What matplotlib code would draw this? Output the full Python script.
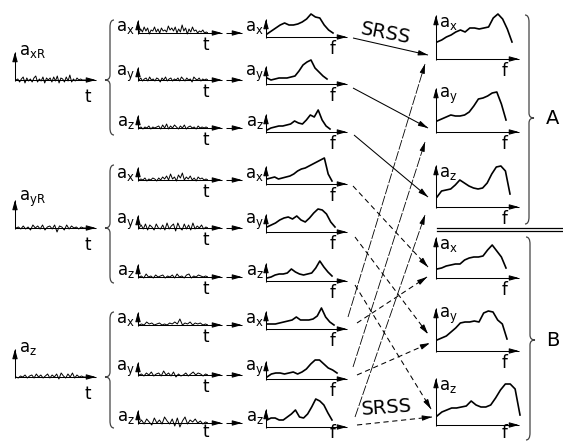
import numpy as np
import matplotlib.pyplot as plt
from matplotlib.path import Path
from matplotlib.patches import PathPatch

W, H = 563, 443

# ground motion records (px amplitude)
rec_xR = [0, 1, -2, 1, 3, -3, 2, -1, 1, -2, 2, 4, -2, 1, -1, 3, -3, 2, 0, 2, -2, 3, -1, 4,
          -3, 2, 1, -2, 3, -1, 5, -2, 1, -1, 2, 0, 1, 0, 0, 0]
rec_yR = [0, 1, -1, 2, -1, 1, -2, 3, 0, 2, -1, 3, -2, 1, 2, -1, 3, -4, 2, 1, -2, 3, -1, 2,
          0, 1, -1, 1, 0, 0]
rec_z = [0, -1, 1, 0, 2, -1, 1, 2, -1, 3, 0, 2, -1, 1, 3, -1, 2, 0, 3, -2, 4, 1, -1, 3,
         0, 4, -1, 2, 0, 1, 0, 0]

# floor response time histories
xR_ax = [0, 4, 1, 6, 2, 5, -1, 3, 2, 6, 1, 4, 0, 5, 2, 3, 1, 7, 3, 5, 2, 6, 0, 4, 1, 8,
         2, 5, -1, 4, 1, 6, 2, 3, 0, 2, 1, 3, 0, 1, 0]
xR_ay = [0, 2, -1, 1, 2, -1, 3, 0, 1, -1, 2, 1, -2, 2, 0, 3, -1, 1, 2, -1, 1, 0, 2, -1,
         3, 1, -1, 2, 0, 1, -2, 3, 1, 0, 2, -1, 1, 0, 1, 0]
xR_az = [0, 1, -1, 1, 0, 2, -1, 1, 0, 1, 2, -1, 3, 0, 4, -1, 2, 0, 3, 1, -1, 2, 0, 3,
         -1, 1, 2, 0, 1, -1, 2, 0, 1, 0, 1, 0]
yR_ax = [0, 1, 0, 2, -1, 1, 0, 2, 1, -1, 2, 0, 3, 1, 4, 0, 6, 1, 3, -1, 5, 2, 7, 0, 3,
         1, 4, 0, 2, -1, 3, 1, 2, 0, 1, 0]
yR_ay = [0, 3, -1, 4, -2, 3, 1, -2, 4, 0, -1, 3, -2, 5, -1, 2, 4, -3, 5, 0, -2, 4, -1,
         3, -2, 5, -1, 2, 0, 3, -1, 1, 0]
yR_az = [0, 1, -1, 3, 0, 1, -1, 2, 0, 1, 2, -1, 1, 0, 2, -1, 3, 0, 1, -1, 2, 3, -1, 1,
         0, 2, 1, 0, 1, 0]
z_ax = [0, 1, 0, 3, 1, 2, 0, 1, 2, 0, 1, 0, 2, 1, 3, 1, 6, 0, 2, 1, 3, 0, 2, 1, 2, 0, 1, 0]
z_ay = [0, 1, -1, 2, 0, 3, -1, 1, 2, -1, 4, 0, 2, -1, 3, -2, 1, -1, 0, 2, -1, 1, 3, 0,
        2, 1, -1, 1, 0]
z_az = [0, 3, -1, 4, 1, -2, 5, 0, 3, -1, 6, 2, -1, 4, -3, 5, -4, 2, 6, -1, 3, 1, 4, 0,
        2, -1, 1, 0]

# floor response spectra (px height)
sp_xR_ax = [3, 6, 9, 12, 14, 12, 12, 13, 15, 18, 23, 20, 19, 12, 7, 4]
sp_xR_ay = [6, 4, 5, 6, 6, 6, 7, 8, 13, 19, 22, 24, 16, 12, 8, 5]
sp_xR_az = [2, 4, 5, 6, 6, 7, 8, 11, 9, 8, 12, 17, 15, 22, 12, 6, 3]
sp_yR_ax = [5, 6, 7, 5, 6, 7, 8, 10, 13, 15, 16, 18, 20, 22, 24, 26, 10, 3]
sp_yR_ay = [5, 7, 9, 12, 14, 15, 13, 16, 12, 10, 14, 19, 23, 22, 18, 10, 5]
sp_yR_az = [3, 4, 6, 7, 7, 8, 12, 9, 7, 6, 7, 8, 13, 20, 14, 9, 5]
sp_z_ax = [5, 5, 5, 6, 7, 8, 9, 12, 9, 9, 9, 10, 13, 21, 12, 7, 4]
sp_z_ay = [2, 5, 6, 6, 5, 6, 7, 5, 7, 10, 15, 19, 19, 15, 11, 9, 6]
sp_z_az = [7, 9, 9, 7, 7, 10, 13, 17, 10, 9, 13, 20, 28, 26, 22, 14, 7]

# SRSS combined spectra
A_ax = [17, 19, 22, 24, 27, 29, 27, 31, 31, 30, 31, 32, 41, 45, 40, 30, 17]
A_ay = [11, 13, 15, 17, 16, 16, 17, 20, 26, 33, 34, 36, 39, 40, 28, 12]
A_az = [10, 16, 17, 18, 22, 27, 24, 21, 19, 18, 19, 24, 33, 40, 41, 36, 13]
B_ax = [9, 10, 12, 13, 14, 14, 18, 20, 21, 21, 22, 28, 33, 27, 21, 10]
B_ay = [11, 13, 15, 19, 23, 28, 29, 29, 30, 29, 38, 40, 39, 31, 27, 12]
B_az = [9, 13, 15, 17, 17, 18, 19, 24, 20, 18, 18, 20, 27, 35, 41, 41, 36, 10]

records = [rec_xR, rec_yR, rec_z]
rec_labels = ['a$_{\\rm xR}$', 'a$_{\\rm yR}$', 'a$_{\\rm z}$']
components = [xR_ax, xR_ay, xR_az, yR_ax, yR_ay, yR_az, z_ax, z_ay, z_az]
spectra = [sp_xR_ax, sp_xR_ay, sp_xR_az, sp_yR_ax, sp_yR_ay, sp_yR_az, sp_z_ax, sp_z_ay, sp_z_az]
results = [A_ax, A_ay, A_az, B_ax, B_ay, B_az]
comp_labels = ['a$_{\\rm x}$', 'a$_{\\rm y}$', 'a$_{\\rm z}$']

# layout (pixels, y down)
rec_base = [80, 228, 377]
row_y = [33, 80, 128, 180, 228, 277, 325, 375, 423]
sp_len = [67, 61, 64, 66, 69, 66, 68, 71, 66]
res_base = [59, 132, 207, 278, 351, 425]
res_top = [15, 88, 165, 237, 308, 378]
res_len = [76, 70, 74, 70, 71, 84]

fig = plt.figure(figsize=(W / 100, H / 100), dpi=100)
ov = fig.add_axes([0, 0, 1, 1])
ov.set_xlim(0, W)
ov.set_ylim(H, 0)
ov.axis('off')


def px_axes(x0, ybot, w, h):
    a = fig.add_axes([x0 / W, 1 - ybot / H, w / W, h / H])
    a.axis('off')
    a.patch.set_visible(False)
    return a


def arrow(x0, y0, x1, y1, dashes=None, lw=0.75):
    if dashes is None:
        ov.plot([x0, x1], [y0, y1], color='k', lw=lw, solid_capstyle='butt')
    else:
        ov.plot([x0, x1], [y0, y1], color='k', lw=lw, dashes=dashes)
    d = np.array([x1 - x0, y1 - y0], float)
    d /= np.hypot(*d)
    p = (x1 - 6 * d[0], y1 - 6 * d[1])
    ov.annotate('', xy=(x1, y1), xytext=p,
                arrowprops=dict(arrowstyle='-|>,head_length=0.8,head_width=0.22',
                                mutation_scale=7, lw=lw, color='k',
                                shrinkA=0, shrinkB=0))


def time_plot(vals, x0, base, w):
    a = px_axes(x0, base + 10, w, 20)
    a.set_xlim(0, w)
    a.set_ylim(-10, 10)
    a.plot(np.linspace(0, w, len(vals)), vals, color='k', lw=0.7)


def spec_plot(vals, x0, base, w):
    a = px_axes(x0, base, w + 2, 50)
    a.set_xlim(0, w + 2)
    a.set_ylim(0, 50)
    a.plot(np.linspace(1, w, len(vals)), vals, color='k', lw=1.2)


def brace(x, y0, y1, ym, side):
    s = 1 if side == 'left' else -1
    hk = 4 * s
    verts = [(x + hk, y0), (x, y0), (x, y0 + 7), (x, ym - 5), (x, ym), (x - 5 * s, ym),
             (x, ym), (x, ym + 5), (x, y1 - 7), (x, y1), (x + hk, y1)]
    codes = [Path.MOVETO, Path.CURVE3, Path.CURVE3, Path.LINETO, Path.CURVE3, Path.CURVE3,
             Path.CURVE3, Path.CURVE3, Path.LINETO, Path.CURVE3, Path.CURVE3]
    ov.add_patch(PathPatch(Path(verts, codes), fill=False, lw=0.9, ec='#444'))


fs_lab = 12
fs_tf = 12

# input records
for rec, lab, base in zip(records, rec_labels, rec_base):
    time_plot(rec, 16, base, 70)
    arrow(15, base + 1, 15, base - 28)
    arrow(15, base, 96, base)
    ov.text(19, base - 29, lab, fontsize=fs_lab, va='center', ha='left')
    ov.text(88, base + 17, 't', fontsize=fs_tf, va='center', ha='center')

# braces around component groups
brace(110, 20, 135, 80, 'left')
brace(110, 165, 283, 228, 'left')
brace(110, 312, 428, 377, 'left')

# components and their spectra
for i, (comp, sp, y) in enumerate(zip(components, spectra, row_y)):
    lab = comp_labels[i % 3]
    time_plot(comp, 139, y, 69)
    arrow(138, y + 1, 138, y - 13)
    arrow(138, y, 222, y)
    ov.text(135, y - 6, lab, fontsize=fs_lab, va='center', ha='right')
    ov.text(206, min(y + 12, 432), 't', fontsize=fs_tf, va='center', ha='center')
    arrow(226, y, 242, y)
    sb = y + 4
    spec_plot(sp, 266, sb, sp_len[i])
    arrow(266, sb + 1, 266, sb - 18)
    arrow(266, sb, 347, sb)
    ov.text(264, y - 6, lab, fontsize=fs_lab, va='center', ha='right')
    ov.text(333, min(sb + 12, 433), 'f', fontsize=fs_tf, va='center', ha='center')

# combined spectra
for i, (res, base, top) in enumerate(zip(results, res_base, res_top)):
    spec_plot(res, 436, base, res_len[i])
    arrow(436, base + 1, 436, top)
    arrow(436, base, 519, base)
    ov.text(439, top + 8, comp_labels[i % 3], fontsize=fs_lab, va='center', ha='left')
    ov.text(505, min(base + 12, 433), 'f', fontsize=fs_tf, va='center', ha='center')

# combination arrows
solid_links = [((353, 38), (428, 55)), ((353, 88), (428, 128)), ((354, 135), (428, 197))]
yr_links = [((353, 186), (428, 267)), ((355, 237), (428, 334)), ((355, 285), (431, 409))]
zb_links = [((357, 323), (427, 277)), ((357, 375), (430, 343)), ((357, 425), (432, 417))]
za_links = [((348, 317), (425, 64)), ((353, 367), (425, 142)), ((355, 417), (425, 215))]
for p, q in solid_links:
    arrow(*p, *q)
for p, q in yr_links + zb_links:
    arrow(*p, *q, dashes=(5, 3.5))
for p, q in za_links:
    arrow(*p, *q, dashes=(12, 2), lw=0.6)

ov.text(386, 33, 'SRSS', fontsize=14, rotation=-11, ha='center', va='center')
ov.text(387, 408, 'SRSS', fontsize=14, rotation=4, ha='center', va='center')

# result braces and separator
brace(529, 15, 224, 118, 'right')
brace(530, 237, 440, 340, 'right')
ov.plot([437, W], [228, 228], color='k', lw=0.9)
ov.plot([437, W], [231, 231], color='k', lw=0.9)
ov.text(553, 118, 'A', fontsize=14, ha='center', va='center')
ov.text(553, 340, 'B', fontsize=14, ha='center', va='center')

fig.savefig('out.png', dpi=100, facecolor='white')
